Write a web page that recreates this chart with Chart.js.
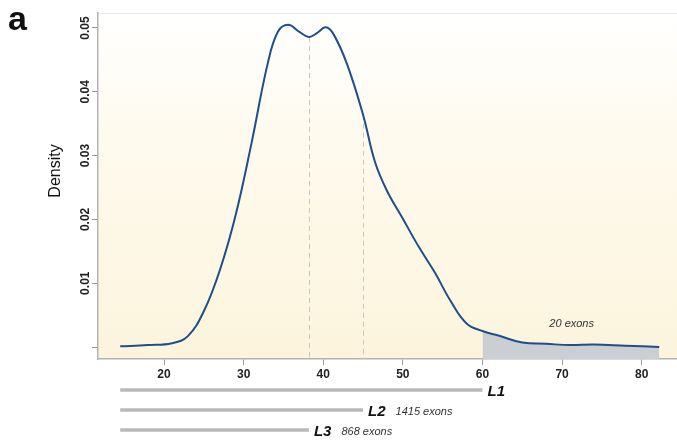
<!DOCTYPE html>
<html>
<head>
<meta charset="utf-8">
<script src="https://cdn.jsdelivr.net/npm/chart.js@4.4.0/dist/chart.umd.min.js"></script>
<style>
  html, body { margin: 0; padding: 0; background: #fff; }
  #wrap { width: 677px; height: 442px; position: relative; }
</style>
</head>
<body>
<div id="wrap"><canvas id="chart"></canvas></div>
<script>
// density curve
const exonLength = [14.5, 18, 21, 23, 25, 27, 29, 31, 33, 34.3, 35.6, 37, 38.2, 39.2, 40.3, 41.3,
  43, 45, 46.5, 48, 50, 52, 54, 56, 58, 60, 62, 65, 68, 71, 74, 78, 82.2];
const density = [0.0001, 0.0003, 0.0006, 0.0017, 0.0056, 0.0120, 0.0207, 0.0320, 0.0443, 0.0494, 0.0505, 0.0494, 0.0486, 0.0492, 0.0501, 0.0490,
  0.0443, 0.0364, 0.0290, 0.0245, 0.0201, 0.0157, 0.0117, 0.0072, 0.0037, 0.0025, 0.0018, 0.0007, 0.0005, 0.0003, 0.0004, 0.0002, 0.0];

const xTickValues = [20, 30, 40, 50, 60, 70, 80];
const yTickValues = [0, 0.01, 0.02, 0.03, 0.04, 0.05];

const tailStart = 60;
const tailNote = '20 exons';
const markerXs = [38.2, 45];

const ruleNames = ['L1', 'L2', 'L3'];
const ruleStart = [14.5, 14.5, 14.5];
const ruleEnd = [60, 45, 38.2];
const ruleNotes = ['', '1415 exons', '868 exons'];

const FONT = '"Liberation Sans", Arial, Helvetica, sans-serif';

const curvePoints = exonLength.map((x, i) => ({ x: x, y: density[i] }));
const tailPoints = curvePoints.filter(p => p.x >= tailStart);

function densityAt(x) {
  for (let i = 1; i < exonLength.length; i++) {
    if (x <= exonLength[i]) {
      const t = (x - exonLength[i - 1]) / (exonLength[i] - exonLength[i - 1]);
      return density[i - 1] + t * (density[i] - density[i - 1]);
    }
  }
  return 0;
}

const decor = {
  id: 'decor',
  beforeDraw(chart) {
    const { ctx, chartArea: a } = chart;
    const g = ctx.createLinearGradient(0, a.top, 0, a.bottom);
    g.addColorStop(0, '#ffffff');
    g.addColorStop(0.35, '#fefaee');
    g.addColorStop(1, '#fcf4dc');
    ctx.save();
    ctx.fillStyle = g;
    ctx.fillRect(a.left, a.top, a.right - a.left, a.bottom - a.top);
    ctx.strokeStyle = '#e8e8e8';
    ctx.lineWidth = 1;
    ctx.beginPath();
    ctx.moveTo(a.left, a.top + 0.5);
    ctx.lineTo(a.right, a.top + 0.5);
    ctx.stroke();
    ctx.restore();
  },
  beforeDatasetsDraw(chart) {
    const { ctx, chartArea: a, scales: { x, y } } = chart;
    ctx.save();
    ctx.strokeStyle = '#c6c6c6';
    ctx.lineWidth = 1;
    ctx.setLineDash([5, 4]);
    markerXs.forEach(m => {
      const px = Math.round(x.getPixelForValue(m)) + 0.5;
      ctx.beginPath();
      ctx.moveTo(px, y.getPixelForValue(densityAt(m)));
      ctx.lineTo(px, a.bottom);
      ctx.stroke();
    });
    ctx.restore();
  },
  afterDraw(chart) {
    const { ctx, chartArea: a, scales: { x, y } } = chart;
    ctx.save();

    // panel letter
    ctx.fillStyle = '#111';
    ctx.font = 'bold 34px ' + FONT;
    ctx.textAlign = 'left';
    ctx.textBaseline = 'alphabetic';
    ctx.fillText('a', 8, 30);

    // y tick labels, rotated like the original
    ctx.font = 'bold 12px ' + FONT;
    ctx.fillStyle = '#222';
    ctx.textAlign = 'center';
    ctx.textBaseline = 'middle';
    yTickValues.forEach(v => {
      if (v === 0) return;
      ctx.save();
      ctx.translate(85.5, y.getPixelForValue(v));
      ctx.rotate(-Math.PI / 2);
      ctx.fillText(v.toFixed(2), 0, 0);
      ctx.restore();
    });

    // axis title
    ctx.save();
    ctx.font = '16px ' + FONT;
    ctx.fillStyle = '#111';
    ctx.translate(56, 171);
    ctx.rotate(-Math.PI / 2);
    ctx.fillText('Density', 0, 0);
    ctx.restore();

    // tail annotation
    ctx.font = 'italic 11px ' + FONT;
    ctx.fillStyle = '#333';
    ctx.fillText(tailNote, x.getPixelForValue(71.2), y.getPixelForValue(0.0036));

    // length ranges under the axis
    ruleNames.forEach((name, i) => {
      const rowY = a.bottom + 31 + i * 20;
      const x0 = x.getPixelForValue(ruleStart[i]);
      const x1 = x.getPixelForValue(ruleEnd[i]);
      ctx.strokeStyle = '#b8b8b8';
      ctx.lineWidth = 3.5;
      ctx.beginPath();
      ctx.moveTo(x0, rowY);
      ctx.lineTo(x1, rowY);
      ctx.stroke();
      ctx.textAlign = 'left';
      ctx.textBaseline = 'middle';
      ctx.fillStyle = '#111';
      ctx.font = 'italic bold 15px ' + FONT;
      ctx.fillText(name, x1 + 5, rowY + 1.5);
      const w = ctx.measureText(name).width;
      if (ruleNotes[i]) {
        ctx.font = 'italic 11px ' + FONT;
        ctx.fillStyle = '#333';
        ctx.fillText(ruleNotes[i], x1 + 5 + w + 10, rowY + 1.5);
      }
    });

    ctx.restore();
  }
};

new Chart(document.getElementById('chart'), {
  type: 'line',
  data: {
    datasets: [
      {
        data: curvePoints,
        borderColor: '#1d4f8c',
        borderWidth: 2,
        pointRadius: 0,
        tension: 0.4,
        fill: false
      },
      {
        data: tailPoints,
        borderWidth: 0,
        borderColor: 'rgba(0,0,0,0)',
        backgroundColor: '#cbced2',
        pointRadius: 0,
        tension: 0.4,
        fill: 'start'
      }
    ]
  },
  options: {
    responsive: true,
    maintainAspectRatio: false,
    animation: false,
    layout: { padding: { top: 13, right: 0, bottom: 0, left: 0 } },
    plugins: {
      legend: { display: false },
      tooltip: { enabled: false }
    },
    scales: {
      x: {
        type: 'linear',
        min: 11.71,
        max: 84.43,
        afterBuildTicks: scale => { scale.ticks = xTickValues.map(v => ({ value: v })); },
        afterFit: scale => { scale.height = 83; },
        grid: { drawOnChartArea: false, drawTicks: true, tickLength: 6, color: '#999' },
        border: { color: '#b3b3b3', width: 1.5 },
        ticks: {
          padding: 2,
          color: '#222',
          font: { family: FONT, size: 12, weight: 'bold' },
          maxRotation: 0
        }
      },
      y: {
        type: 'linear',
        min: -0.00188,
        max: 0.05235,
        afterBuildTicks: scale => { scale.ticks = yTickValues.map(v => ({ value: v })); },
        afterFit: scale => { scale.width = 98; },
        grid: { drawOnChartArea: false, drawTicks: true, tickLength: 6, color: '#999' },
        border: { color: '#b3b3b3', width: 1.5 },
        ticks: { display: false }
      }
    }
  },
  plugins: [decor]
});
</script>
</body>
</html>
